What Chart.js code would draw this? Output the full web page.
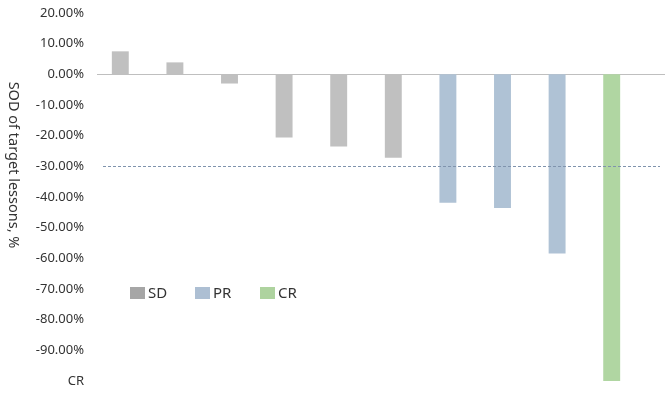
<!DOCTYPE html>
<html>
<head>
<meta charset="utf-8">
<script src="https://cdn.jsdelivr.net/npm/chart.js@4.4.1/dist/chart.umd.min.js"></script>
<style>
    html, body { margin: 0; padding: 0; background: #fff; }
    #wrap { width: 668px; height: 394px; position: relative; }
</style>
</head>
<body>
<div id="wrap"><canvas id="myChart"></canvas></div>
<script>
const lesions = ['1', '2', '3', '4', '5', '6', '7', '8', '9', '10'];
const sdValues = [7.5, 3.9, -3.0, -20.6, -23.5, -27.2, null, null, null, null];
const prValues = [null, null, null, null, null, null, -41.9, -43.6, -58.4, null];
const crValues = [null, null, null, null, null, null, null, null, null, -100];
const threshold = -30;
const yTicks = [20, 10, 0, -10, -20, -30, -40, -50, -60, -70, -80, -90, -100];

const font = '"Noto Sans", sans-serif';

// zero line, -30% dashed line, y title and legend drawn on the canvas
const extras = {
    id: 'extras',
    beforeDatasetsDraw(chart) {
        const ctx = chart.ctx;
        const y = chart.scales.y;
        const area = chart.chartArea;
        ctx.save();
        const y0 = Math.round(y.getPixelForValue(0)) + 0.5;
        ctx.strokeStyle = '#bfbfbf';
        ctx.lineWidth = 1.2;
        ctx.beginPath();
        ctx.moveTo(area.left + 4, y0);
        ctx.lineTo(area.right + 26, y0);
        ctx.stroke();
        ctx.restore();
    },
    afterDatasetsDraw(chart) {
        const ctx = chart.ctx;
        const y = chart.scales.y;
        const area = chart.chartArea;
        ctx.save();
        const yt = Math.round(y.getPixelForValue(threshold)) + 0.5;
        ctx.strokeStyle = '#7f93ad';
        ctx.lineWidth = 1;
        ctx.setLineDash([3, 2]);
        ctx.beginPath();
        ctx.moveTo(area.left + 10, yt);
        ctx.lineTo(area.right + 21, yt);
        ctx.stroke();
        ctx.setLineDash([]);

        // y axis title
        ctx.fillStyle = '#333333';
        ctx.font = '14.5px ' + font;
        ctx.textAlign = 'center';
        ctx.textBaseline = 'middle';
        ctx.translate(13, 165);
        ctx.rotate(Math.PI / 2);
        ctx.fillText('SOD of target lessons, %', 0, 0);
        ctx.restore();

        // legend
        ctx.save();
        const items = [
            { text: 'SD', color: '#a6a6a6', x: 130 },
            { text: 'PR', color: '#adbfd3', x: 195 },
            { text: 'CR', color: '#aed39f', x: 260 }
        ];
        ctx.font = '15px ' + font;
        ctx.textBaseline = 'middle';
        ctx.textAlign = 'left';
        for (const it of items) {
            ctx.fillStyle = it.color;
            ctx.fillRect(it.x, 287, 15, 12);
            ctx.fillStyle = '#333333';
            ctx.fillText(it.text, it.x + 18, 293.5);
        }
        ctx.restore();
    }
};

const ctx = document.getElementById('myChart').getContext('2d');
const myChart = new Chart(ctx, {
    type: 'bar',
    data: {
        labels: lesions,
        datasets: [
            { label: 'SD', data: sdValues, backgroundColor: '#c0c0c0' },
            { label: 'PR', data: prValues, backgroundColor: '#afc2d5' },
            { label: 'CR', data: crValues, backgroundColor: '#b0d6a2' }
        ]
    },
    options: {
        responsive: true,
        maintainAspectRatio: false,
        animation: false,
        datasets: {
            bar: {
                grouped: false,
                categoryPercentage: 1,
                barPercentage: 0.31
            }
        },
        layout: {
            padding: { top: 13, bottom: 13, right: 29, left: 0 }
        },
        plugins: {
            legend: { display: false },
            tooltip: { enabled: false }
        },
        scales: {
            x: {
                display: false
            },
            y: {
                min: -100,
                max: 20,
                afterBuildTicks: (scale) => {
                    scale.ticks = yTicks.map(v => ({ value: v }));
                },
                afterFit: (scale) => {
                    scale.width = 93;
                    scale.paddingTop = 0;
                    scale.paddingBottom = 0;
                },
                grid: { display: false, drawTicks: false },
                border: { display: false },
                ticks: {
                    padding: 9,
                    color: '#333333',
                    font: { family: font, size: 13 },
                    callback: (value) => value === -100 ? 'CR' : value.toFixed(2) + '%'
                }
            }
        }
    },
    plugins: [extras]
});
</script>
</body>
</html>
